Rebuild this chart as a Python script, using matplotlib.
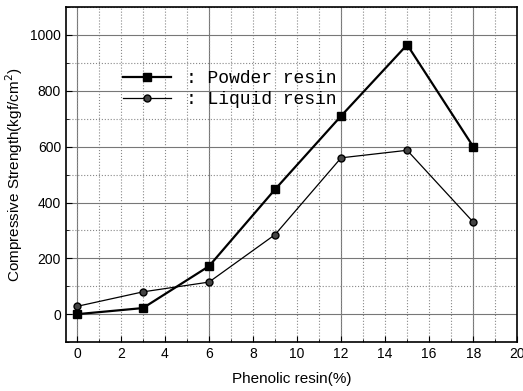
import matplotlib.pyplot as plt
from matplotlib.ticker import MultipleLocator

# Phenolic resin content (%) and compressive strength (kgf/cm^2)
resin_pct = [0, 3, 6, 9, 12, 15, 18]
powder_strength = [0, 22, 172, 447, 710, 965, 600]
liquid_strength = [28, 80, 115, 285, 560, 587, 330]

plt.rcParams['font.family'] = ['Liberation Sans', 'DejaVu Sans']

fig = plt.figure(figsize=(5.23, 3.91), dpi=100)
ax = fig.add_axes([0.126, 0.125, 0.863, 0.857])

ax.set_xlim(-0.5, 20)
ax.set_ylim(-100, 1100)

# grid: solid lines every 200 / every 6 %, dotted lines in between
ax.xaxis.set_major_locator(MultipleLocator(2))
ax.xaxis.set_minor_locator(MultipleLocator(1))
ax.yaxis.set_major_locator(MultipleLocator(200))
ax.yaxis.set_minor_locator(MultipleLocator(100))
ax.grid(which='minor', color='#888888', linestyle=':', linewidth=0.8)
ax.grid(which='major', axis='x', color='#888888', linestyle=':', linewidth=0.8)
ax.grid(which='major', axis='y', color='#777777', linestyle='-', linewidth=0.8)
for xv in [0, 6, 12, 18]:
    ax.axvline(xv, color='#777777', linewidth=0.8, zorder=1)

ax.plot(resin_pct, powder_strength, color='black', linewidth=1.6,
        marker='s', markersize=6, label=': Powder resin', zorder=3)
ax.plot(resin_pct, liquid_strength, color='black', linewidth=0.9,
        marker='o', markersize=5, markerfacecolor='#444444',
        label=': Liquid resin', zorder=3)

ax.tick_params(which='both', direction='in', labelsize=10, colors='black')
ax.tick_params(which='major', length=4)
ax.tick_params(which='minor', length=2)
for s in ax.spines.values():
    s.set_linewidth(1.2)

ax.set_xlabel('Phenolic resin(%)', fontsize=11, labelpad=8)
ax.set_ylabel('Compressive Strength(kgf/cm$^2$)', fontsize=11)

leg = ax.legend(loc='upper left', bbox_to_anchor=(0.09, 0.86), frameon=False,
                handlelength=2.65, handletextpad=0.85, labelspacing=0.22,
                prop={'family': 'Liberation Mono', 'size': 13})

fig.savefig('out.png', dpi=100)
